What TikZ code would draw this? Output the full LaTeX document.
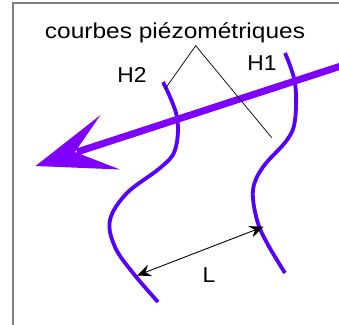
\documentclass[tikz,border=0pt]{standalone}
\usepackage{fontspec}
\setmainfont{Liberation Sans}
\usetikzlibrary{arrows.meta}

\definecolor{isoblue}{RGB}{85,0,255}
\definecolor{flowviolet}{RGB}{127,0,255}

\begin{document}
\begin{tikzpicture}[x=1pt, y=-1pt,
  lbl/.style={inner sep=0pt, anchor=base, font=\fontsize{21.5}{25}\selectfont},
  iso/.style={isoblue, line width=3.8pt},
  leader/.style={black, line width=0.7pt},
  dim/.style={{Stealth[length=14pt,width=12pt,inset=5pt]}-{Stealth[length=14pt,width=12pt,inset=5pt]}, line width=0.9pt}]
  \useasboundingbox (0,0) rectangle (339,324);
  \clip (0,0) rectangle (339,324);
  \draw[gray, line width=1.4pt] (13,3) rectangle (350,340);

  % piezometric curves
  \draw[iso] plot[smooth, tension=0.6] coordinates {(163,82) (177,117) (175,150) (160,168) (127,193) (110,220) (115,247) (133,273) (158,302)};
  \draw[iso] plot[smooth, tension=0.6] coordinates {(285,53) (295,83) (295,120) (287,140) (263,167) (253,190) (257,220) (267,243) (285,273)};

  % flow arrow
  \coordinate (fstart) at (345,64.7);
  \coordinate (notch) at (77,152);
  \draw[flowviolet, line width=7pt] (fstart) -- (notch);
  \fill[flowviolet] (35.5,166) -- (100.5,115) -- (75,152) -- (120,169.5) -- cycle;

  \node[lbl, xscale=1.14] (title) at (175,38.3) {courbes piézométriques};
  \node[lbl, xscale=1.06] (h2) at (132,82) {H2};
  \node[lbl, xscale=1.06] (h1) at (262,70) {H1};
  \node[lbl, xscale=1.06] (len) at (209,282) {L};

  \coordinate (apex) at (195.7,45.7);
  \coordinate (onh2) at (165,89);
  \coordinate (nearh1) at (271.7,137.7);
  \draw[leader] (onh2) -- (apex) -- (nearh1);

  \coordinate (la) at (137,275.5);
  \coordinate (lb) at (263.5,226.7);
  \draw[dim] (la) -- (lb);
\end{tikzpicture}
\end{document}
